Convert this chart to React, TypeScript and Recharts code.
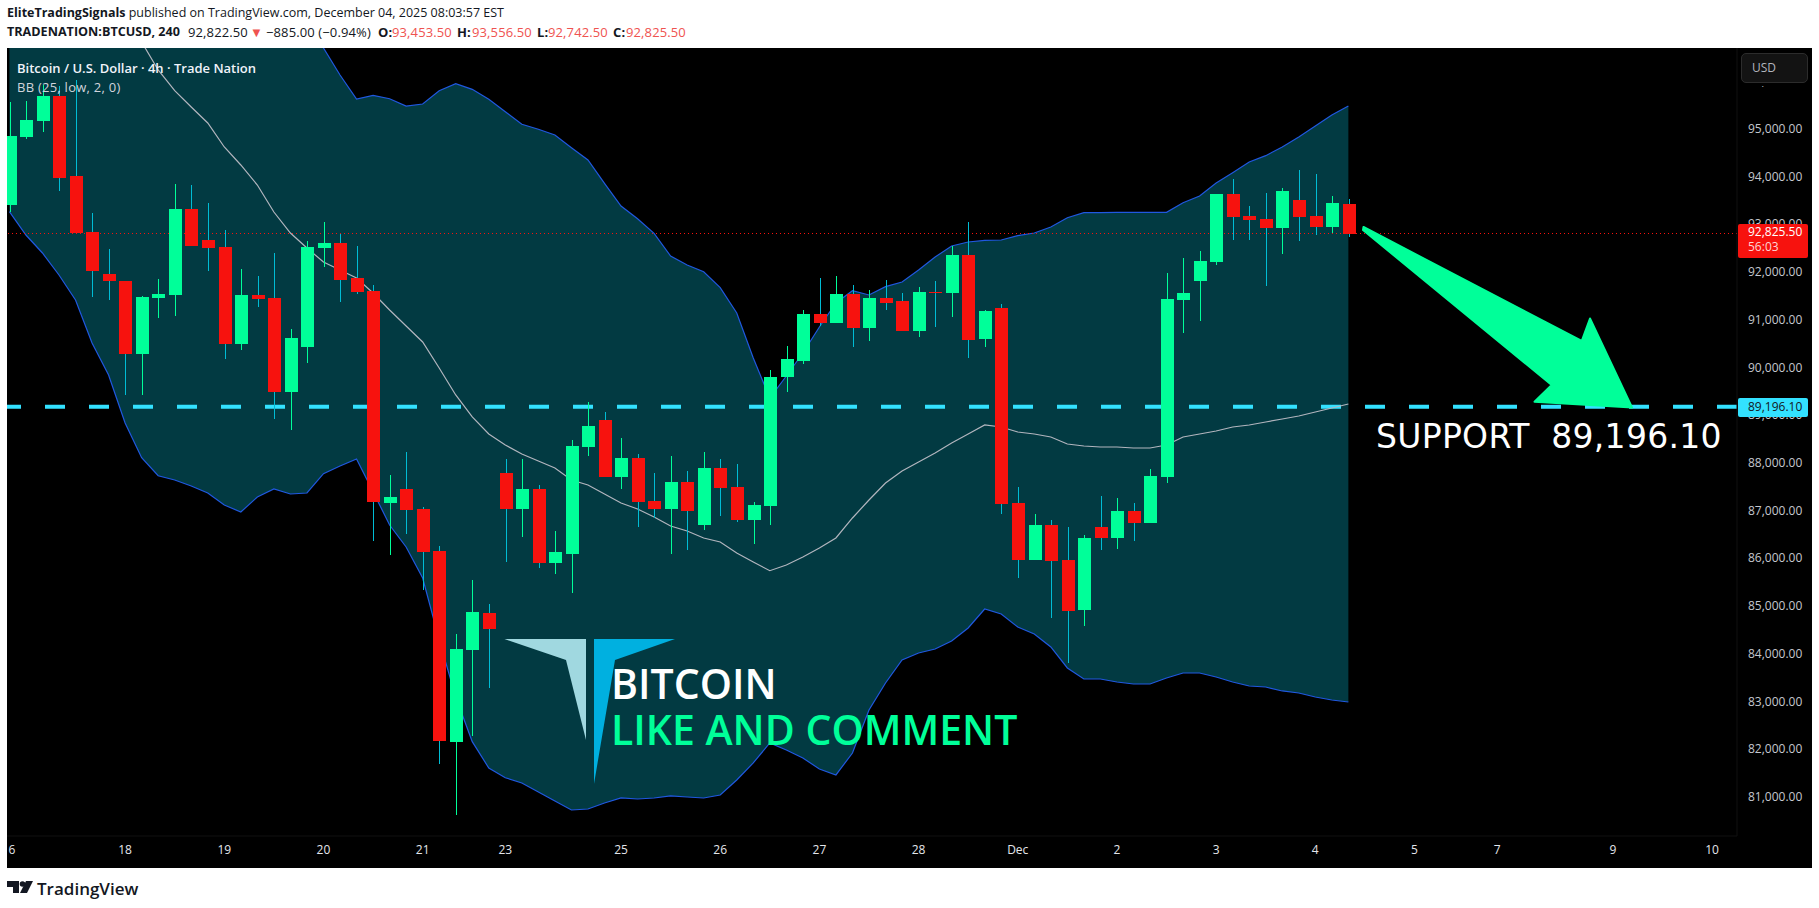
import React from "react";
import { ComposedChart, Area, Line, Bar, XAxis, YAxis, ReferenceLine } from "recharts";

const opens = [93430,94848,95190,95708,94031,92857,91977,91830,90307,91480,91537,93339,92690,92543,90516,91537,91474,89510,90453,92522,92627,91893,91621,87184,87471,87052,86171,82174,84096,84872,87806,87052,87471,85920,86108,88351,88917,87722,88120,87219,87052,87617,86716,87911,87513,86821,87114,89818,90153,91139,90950,91558,90845,91474,91411,90782,91600,91579,92375,90615,91264,87177,85989,86716,85982,84934,86674,86444,87009,86758,87722,91432,91830,92228,93654,93193,93130,92941,93528,93193,92962,93453.5];
const highs = [95588,95603,95938,95917,96043,93255,92501,91830,91516,91866,93863,93842,93465,92899,92082,91935,92417,90824,92669,93067,92815,92564,91746,87764,88246,87093,86276,84431,85563,85060,88099,88099,87554,86590,88498,89294,89085,88540,88204,87806,88162,87848,88246,88099,87995,87198,89965,90468,91222,91893,91935,91746,91642,91851,91579,91704,91830,92564,93067,91222,91348,87513,86947,86821,86674,86506,87324,87282,87177,87890,91998,92312,92459,93654,93968,93402,93675,93780,94157,94073,93612,93556.5];
const lows = [93283,94807,94960,93723,92836,91501,91432,89441,89441,91061,91103,92564,92040,90195,90384,91292,88938,88707,90118,92130,91390,91564,86387,86087,86527,85354,81713,80638,82293,83300,85941,86465,85815,85689,85291,88162,87722,87471,86674,86863,86108,86192,86611,86905,86779,86318,86716,89504,90091,90887,90950,90447,90573,91222,90782,90657,90866,91076,90216,90447,86947,85605,85989,84773,83824,84599,86192,86213,86381,86758,87596,90740,90992,92166,92690,92690,91725,92396,92669,92794,92836,92742.5];
const closes = [94869,95205,95708,93995,92836,92046,91836,90307,91495,91558,93339,92564,92522,90516,91537,91453,89510,90636,92543,92627,91858,91606,87204,87303,87037,86157,82195,84117,84893,84536,87052,87471,85920,86150,88372,88791,87722,88120,87198,87052,87617,87009,87911,87498,86821,87135,89818,90195,91139,90950,91558,90851,91474,91369,90782,91600,91579,92375,90594,91201,87156,85989,86716,85961,84914,86444,86444,87009,86758,87743,91453,91579,92249,93654,93172,93109,92941,93717,93172,92962,93465,92825.5];
const upperBand = [100900,100850,100780,100700,100620,100520,100400,100300,100170,100060,99950,99830,99700,99500,99200,98900,98500,97720,97260,96714,96148,95645,95722,95651,95498,95540,95819,95966,95848,95639,95379,95115,95010,94890,94624,94366,93878,93402,93136,92830,92354,92166,92025,91690,91160,90216,89378,89839,90321,90866,91369,91627,91537,91711,91809,92061,92333,92564,92648,92683,92690,92780,92836,92962,93157,93262,93262,93270,93270,93270,93270,93471,93612,93884,94100,94324,94457,94639,94848,95079,95310,95498];
const lowerBand = [93283,92794,92417,91956,91432,90531,89860,88854,88127,87749,87659,87533,87387,87135,86988,87303,87471,87366,87387,87791,87953,88099,87414,86716,86255,85605,84306,83111,82174,81623,81419,81308,81120,80931,80742,80763,80889,80994,80973,80994,81036,81015,80994,81057,81371,81728,82147,82000,81832,81602,81476,81937,82838,83404,83886,84033,84117,84285,84557,84955,84851,84578,84431,84159,83719,83488,83488,83425,83383,83383,83509,83614,83614,83530,83425,83341,83320,83237,83195,83111,83048,83006];
const basisBand = [99190,98980,98770,98450,98140,97825,97510,97196,96840,96253,95819,95477,95142,94639,94262,93842,93276,92836,92522,92228,92061,91893,91579,91222,90887,90552,90007,89441,88980,88623,88393,88204,88057,87911,87659,87554,87366,87177,87052,86884,86695,86590,86444,86360,86129,85940,85758,85877,86045,86234,86444,86863,87240,87596,87848,88036,88225,88435,88623,88812,88770,88665,88623,88560,88414,88372,88351,88351,88330,88330,88393,88560,88623,88686,88770,88812,88875,88938,89001,89084,89168,89252];

const priceTicks = [81000,82000,83000,84000,85000,86000,87000,88000,89000,90000,91000,92000,93000,94000,95000,96000];
const timeTickIndex = [0.15,7,13,19,25,30,37,43,49,55,61,67,73,79,85,90,97,103];
const timeTickLabels = ["6","18","19","20","21","23","25","26","27","28","Dec","2","3","4","5","7","9","10"];
const LAST_PRICE = 92825.5;
const SUPPORT = 89196.1;

const rows = opens.map((open, i) => ({
  t: i, open, high: highs[i], low: lows[i], close: closes[i],
  upper: upperBand[i], lower: lowerBand[i], basis: basisBand[i],
}));

const GREEN = "#00ff99";
const RED = "#f7120e";
const TEAL = "#023a42";
const LOSS = "#ef5350";
const INK = "#131722";
const FONT = "'Open Sans', sans-serif";

function Candle(props: any) {
  const { x, y, width, height, payload } = props;
  const { open, high, low, close } = payload;
  const ratio = height / (high - low);
  const py = (v: number) => y + (high - v) * ratio;
  const cx = Math.round(x + width / 2);
  const up = close >= open;
  const top = py(Math.max(open, close));
  const bot = py(Math.min(open, close));
  return (
    <g shapeRendering="crispEdges">
      <rect x={cx} y={y} width={1} height={height} fill={up ? GREEN : "#00bcd4"} />
      <rect x={cx - 6} y={top} width={13} height={Math.max(bot - top, 1)} fill={up ? GREEN : RED} />
    </g>
  );
}

const abs = (left: number, top: number, extra: React.CSSProperties = {}): React.CSSProperties => ({
  position: "absolute", left, top, whiteSpace: "pre", lineHeight: 1, ...extra,
});

const HEAD2_Y = 26;
const head2 = (left: number, text: string, color: string, bold = false) => (
  <div style={abs(left, HEAD2_Y, { fontSize: 13, letterSpacing: 0.12, color, fontWeight: bold ? 700 : 400 })}>{text}</div>
);

export default function App() {
  return (
    <div style={{ position: "absolute", left: 0, top: 0, width: 1819, height: 908, background: "#fff", overflow: "hidden", fontFamily: FONT }}>
      <div style={abs(7, 7, { fontSize: 12.5, color: INK })}>
        <b>EliteTradingSignals</b> published on TradingView.com, December 04, 2025 08:03:57 EST
      </div>
      <div style={abs(7, HEAD2_Y, { fontSize: 12.6, fontWeight: 700, color: INK })}>TRADENATION:BTCUSD, 240</div>
      {head2(188, "92,822.50", INK)}
      {head2(250, "▼", LOSS)}
      {head2(266, "−885.00 (−0.94%)", INK)}
      {head2(378, "O:", INK, true)}
      {head2(392, "93,453.50", LOSS)}
      {head2(457, "H:", INK, true)}
      {head2(472, "93,556.50", LOSS)}
      {head2(537, "L:", INK, true)}
      {head2(548, "92,742.50", LOSS)}
      {head2(613, "C:", INK, true)}
      {head2(626, "92,825.50", LOSS)}

      <div style={abs(7, 48, { width: 1805, height: 820, background: "#000" })}>
        <ComposedChart width={1805} height={820} data={rows} margin={{ top: 0, right: 0, bottom: 0, left: 0 }}>
          <XAxis
            dataKey="t" type="number" domain={[-0.145, 104.51]} allowDataOverflow
            ticks={timeTickIndex} interval={0} height={32}
            tickFormatter={(v: number) => timeTickLabels[timeTickIndex.indexOf(v)]}
            tick={{ fill: "#e4e6eb", fontSize: 12, fontFamily: FONT }}
            axisLine={{ stroke: "#101010" }} tickLine={false} tickMargin={3}
          />
          <YAxis
            orientation="right" type="number" domain={[80197, 96714]} allowDataOverflow
            ticks={priceTicks} interval={0} width={75}
            tickFormatter={(v: number) => v.toLocaleString("en-US", { minimumFractionDigits: 2 })}
            tick={{ fill: "#c4c7ce", fontSize: 12, fontFamily: FONT, dy: -1 }}
            axisLine={{ stroke: "#101010" }} tickLine={false} tickMargin={5}
          />
          <Area dataKey={(d: any) => [d.lower, d.upper]} type="linear" stroke="none" fill={TEAL} fillOpacity={1} isAnimationActive={false} dot={false} activeDot={false} />
          <Line dataKey="upper" type="linear" stroke="#2058e0" strokeWidth={1.2} dot={false} isAnimationActive={false} />
          <Line dataKey="lower" type="linear" stroke="#2058e0" strokeWidth={1.2} dot={false} isAnimationActive={false} />
          <ReferenceLine y={SUPPORT} stroke="#33e1ff" strokeWidth={4} strokeDasharray="20 24" ifOverflow="visible" />
          <ReferenceLine y={LAST_PRICE} stroke="#f7120e" strokeWidth={1} strokeDasharray="1 3" ifOverflow="visible" />
          <Line dataKey="basis" type="linear" stroke="#b2b5be" strokeWidth={1.2} dot={false} isAnimationActive={false} />
          <Bar dataKey={(d: any) => [d.low, d.high]} barSize={13} shape={<Candle />} isAnimationActive={false} zIndex={700} />
        </ComposedChart>
      </div>

      <svg width={1819} height={908} style={{ position: "absolute", left: 0, top: 0, pointerEvents: "none" }}>
        <polygon points="1363.5,227 1581.7,341 1590,318.5 1632,407.5 1534.5,401.7 1551.7,385 1363,230" fill={GREEN} stroke={GREEN} strokeWidth={2} strokeLinejoin="round" />
        <polygon points="504.5,639 586,639 586,740 566,660" fill="#a0d8e0" />
        <polygon points="594,639 675,639 615,660 594,784" fill="#00b0e0" />
        <g fill={INK}>
          <polygon points="7,881 19,881 19,893 13,893 13,887 7,887" />
          <circle cx="22.5" cy="884" r="2.8" />
          <polygon points="26,881 33,881 27,893 20,893" />
        </g>
      </svg>

      <div style={abs(17, 62, { fontSize: 13, fontWeight: 600, color: "#f0f3fa" })}>Bitcoin / U.S. Dollar · 4h · Trade Nation</div>
      <div style={abs(17, 81, { fontSize: 13, letterSpacing: 0.25, color: "#d1d4dc" })}>BB (25, low, 2, 0)</div>

      <div style={abs(611, 663, { fontSize: 41, fontWeight: 600, color: "#fff" })}>BITCOIN</div>
      <div style={abs(611, 709, { fontSize: 41, fontWeight: 600, color: GREEN })}>LIKE AND COMMENT</div>
      <div style={abs(1376, 420, { fontSize: 33, fontFamily: "'DejaVu Sans', sans-serif", color: "#fff", letterSpacing: 0.3 })}>SUPPORT  89,196.10</div>

      <div style={abs(1738, 82, { width: 72, height: 3.5, background: "#000" })} />
      <div style={abs(1741, 53, { width: 67, height: 30, background: "#131313", border: "1px solid #2c2c2c", borderRadius: 5, boxSizing: "border-box", color: "#b2b5be", fontSize: 12, paddingLeft: 10, lineHeight: "28px" })}>USD</div>
      <div style={abs(1738, 224, { width: 70, height: 34, background: RED, borderRadius: 2 })} />
      <div style={abs(1748, 226, { fontSize: 12, color: "#fff" })}>92,825.50</div>
      <div style={abs(1748, 241, { fontSize: 12, color: "#ffd5d5" })}>56:03</div>
      <div style={abs(1738, 398, { width: 70, height: 19, background: "#33e1ff", borderRadius: 2 })} />
      <div style={abs(1748, 401, { fontSize: 12, color: INK })}>89,196.10</div>

      <div style={abs(37, 880, { fontSize: 17, fontWeight: 600, color: INK })}>TradingView</div>
    </div>
  );
}
